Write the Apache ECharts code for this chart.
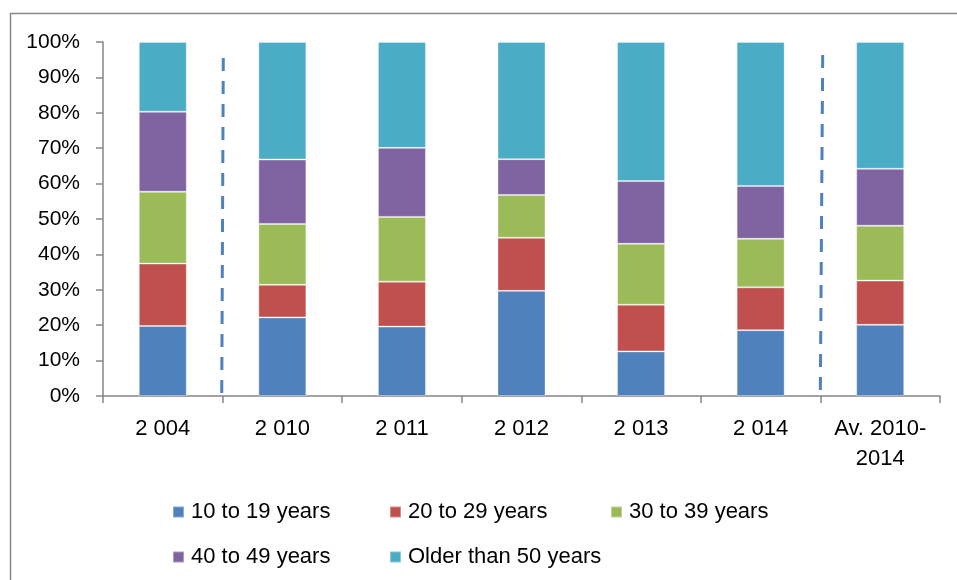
<!DOCTYPE html>
<html>
<head>
<meta charset="utf-8">
<style>
  html, body { margin: 0; padding: 0; background: #ffffff; }
  #chart { width: 957px; height: 580px; }
</style>
<script src="https://cdn.jsdelivr.net/npm/echarts@6/dist/echarts.min.js"></script>
</head>
<body>
<div id="chart"></div>
<script>
// Age structure, share of each age group (%)
const categories = ['2 004', '2 010', '2 011', '2 012', '2 013', '2 014', 'Av. 2010-\n2014'];
const age10to19 = [19.8, 22.2, 19.6, 29.7, 12.6, 18.6, 20.1];
const age20to29 = [17.6,  9.2, 12.7, 15.0, 13.2, 12.1, 12.5];
const age30to39 = [20.3, 17.2, 18.3, 12.1, 17.2, 13.7, 15.5];
const age40to49 = [22.6, 18.2, 19.5, 10.1, 17.7, 14.9, 16.1];
const olderThan50 = [19.7, 33.2, 29.9, 33.1, 39.3, 40.7, 35.8];
const seriesNames = ['10 to 19 years', '20 to 29 years', '30 to 39 years', '40 to 49 years', 'Older than 50 years'];
const yTicks = [0, 10, 20, 30, 40, 50, 60, 70, 80, 90, 100];

// Separator lines between periods: [x position on the category scale, height in %]
const separatorA = [[0.506, 95.5], [0.493, 0]];
const separatorB = [[5.519, 96.3], [5.499, 0]];

const colors = ['#4F81BD', '#C0504D', '#9BBB59', '#8064A2', '#4BACC6'];
const fontFamily = "'Liberation Sans Narrow', 'Liberation Sans', sans-serif";
const axisGray = '#868686';

const chart = echarts.init(document.getElementById('chart'), null, { renderer: 'canvas' });

const valuesBySeries = [age10to19, age20to29, age30to39, age40to49, olderThan50];
const barSeries = valuesBySeries.map((vals, i) => ({
  name: seriesNames[i],
  type: 'bar',
  stack: 'share',
  barWidth: 48,
  xAxisIndex: 0,
  yAxisIndex: 0,
  itemStyle: { color: colors[i], borderColor: 'rgba(255,255,255,0.35)', borderWidth: 1 },
  data: vals
}));

const dashStyle = { color: '#4F81BD', width: 3, type: [13, 10] };
const separatorSeries = [separatorA, separatorB].map(d => ({
  type: 'line',
  xAxisIndex: 1,
  yAxisIndex: 0,
  symbol: 'none',
  silent: true,
  lineStyle: dashStyle,
  data: d
}));

const legendLefts = [172, 389, 610, 172, 389];
const legendTops = [501, 501, 501, 546, 546];
const legends = seriesNames.map((n, i) => ({
  data: [n],
  left: legendLefts[i],
  top: legendTops[i],
  icon: 'rect',
  itemWidth: 11,
  itemHeight: 11,
  padding: 0,
  textStyle: { fontFamily, fontSize: 22, color: '#000', padding: [0, 0, 0, 2] }
}));

chart.setOption({
  animation: false,
  backgroundColor: '#ffffff',
  graphic: [{
    type: 'rect',
    shape: { x: 10.5, y: 13.5, width: 1000, height: 1000 },
    style: { fill: 'none', stroke: '#878787', lineWidth: 1.5 },
    silent: true,
    z: 0
  }],
  legend: legends,
  grid: { left: 103, top: 42, right: 17, bottom: 184, containLabel: false },
  xAxis: [{
    type: 'category',
    data: categories,
    boundaryGap: true,
    axisLine: { onZero: false, lineStyle: { color: axisGray, width: 1.5 } },
    axisTick: { show: true, length: 7, alignWithLabel: false, lineStyle: { color: axisGray, width: 1.5 } },
    axisLabel: { fontFamily, fontSize: 22, color: '#000', margin: 18, lineHeight: 30, interval: 0 }
  }, {
    type: 'value',
    min: -0.5,
    max: 6.5,
    show: false,
    axisLine: { show: false, onZero: false }
  }],
  yAxis: [{
    type: 'value',
    min: 0,
    max: 100,
    interval: 10,
    splitLine: { show: false },
    axisLine: { show: true, onZero: false, lineStyle: { color: axisGray, width: 1.5 } },
    axisTick: { show: true, length: 7, lineStyle: { color: axisGray, width: 1.5 } },
    axisLabel: {
      fontFamily, fontSize: 21, color: '#000', margin: 23,
      formatter: v => yTicks.includes(v) ? v + '%' : ''
    }
  }],
  series: barSeries.concat(separatorSeries)
});
</script>
</body>
</html>
